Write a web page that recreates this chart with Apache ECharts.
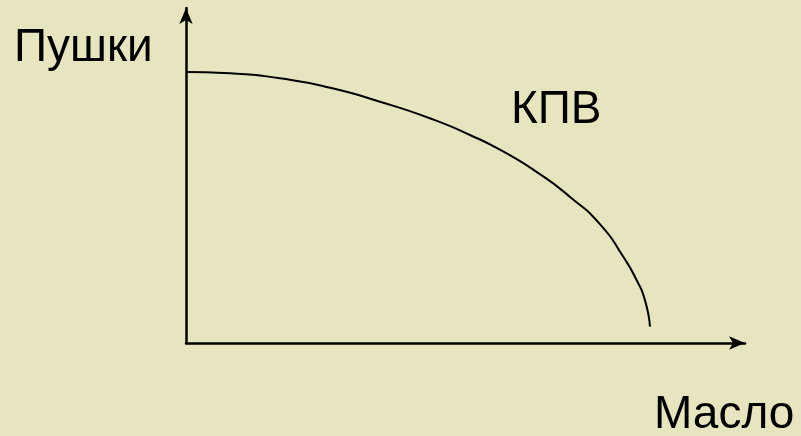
<!DOCTYPE html>
<html>
<head>
<meta charset="utf-8">
<script src="https://cdn.jsdelivr.net/npm/echarts@6/dist/echarts.min.js"></script>
<style>
  html, body { margin: 0; padding: 0; background: #e7e5bf; }
  #chart { width: 801px; height: 436px; }
</style>
</head>
<body>
<div id="chart"></div>
<script>
// кривая производственных возможностей (КПВ)
const masloValues = [0, 7.9, 16.8, 25.8, 34.7, 43.6, 50.8, 56.8, 62.7, 68.7, 74.2, 78.2, 80.6, 82.1, 83.0]
const pushkiValues = [80.9, 80.5, 79.0, 76.2, 72.0, 67.1, 62.1, 57.1, 51.1, 43.6, 35.2, 25.8, 18.8, 12.8, 4.9]

const xLabel = 'Масло'
const yLabel = 'Пушки'
const curveLabel = 'КПВ'

const curve = masloValues.map((x, i) => [x, pushkiValues[i]])

const chart = echarts.init(document.getElementById('chart'), null, { renderer: 'canvas' })

const axisLine = {
  show: true,
  symbol: ['none', 'arrow'],
  symbolSize: [10, 16],
  lineStyle: { color: '#000', width: 2.5 }
}

const textStyle = { fill: '#000', fontSize: 46, fontFamily: 'Liberation Sans, Arial, sans-serif', verticalAlign: 'middle' }

chart.setOption({
  backgroundColor: '#e7e5bf',
  animation: false,
  grid: { left: 186, right: 56, top: 8, bottom: 93, containLabel: false },
  xAxis: {
    type: 'value', min: 0, max: 100,
    axisLine, axisTick: { show: false }, axisLabel: { show: false }, splitLine: { show: false }
  },
  yAxis: {
    type: 'value', min: 0, max: 100,
    axisLine, axisTick: { show: false }, axisLabel: { show: false }, splitLine: { show: false }
  },
  series: [{
    name: curveLabel,
    type: 'line',
    data: curve,
    smooth: 0.6,
    showSymbol: false,
    lineStyle: { color: '#000', width: 2 }
  }],
  graphic: [
    { type: 'text', left: 14, top: 25, style: Object.assign({ text: yLabel }, textStyle) },
    { type: 'text', left: 511, top: 87, style: Object.assign({ text: curveLabel }, textStyle) },
    { type: 'text', left: 654, top: 392, style: Object.assign({ text: xLabel }, textStyle) }
  ]
})
</script>
</body>
</html>
